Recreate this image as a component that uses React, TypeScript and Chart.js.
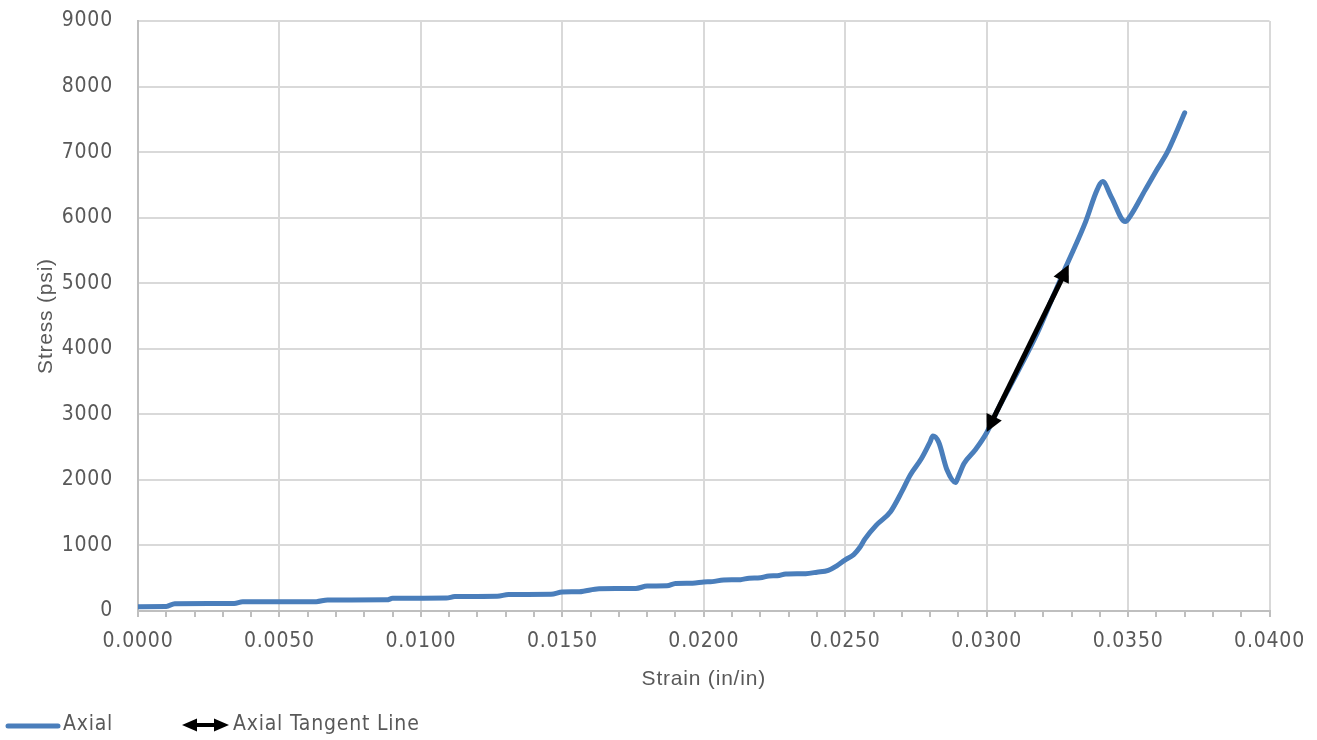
import React, { useEffect, useRef } from 'react';
import { Chart, registerables } from 'chart.js';

Chart.register(...registerables);

// ---- Data ----
const axialStrain = [
  0.0000, 0.0010, 0.0013, 0.0034, 0.0037, 0.0063, 0.0067, 0.0088, 0.0090, 0.0109, 0.0112, 0.0127, 0.0131,
  0.0146, 0.0150, 0.0156, 0.0163, 0.0176, 0.0180, 0.0187, 0.0190, 0.0196, 0.0200,
  0.0203, 0.0207, 0.0213, 0.0216, 0.0220, 0.0223, 0.0226, 0.0229, 0.0236, 0.0240,
  0.0244, 0.0247, 0.0250, 0.0253, 0.0255, 0.0257, 0.0261, 0.0266, 0.0270, 0.0273,
  0.0277, 0.0280, 0.0281, 0.0283, 0.0286, 0.0289, 0.0290, 0.0292, 0.0296, 0.0300,
  0.0304, 0.0311, 0.0318, 0.0323, 0.0328, 0.0335, 0.0339, 0.0341, 0.0344, 0.0349,
  0.0351, 0.0356, 0.0360, 0.0364, 0.0370,
];
const axialStress = [
  66, 68, 112, 115, 140, 143, 168, 170, 194, 197, 220, 225, 252,
  255, 290, 295, 340, 345, 380, 385, 420, 425, 442,
  448, 473, 478, 500, 506, 534, 538, 564, 570, 592,
  620, 690, 780, 860, 960, 1100, 1310, 1515, 1820, 2075,
  2330, 2580, 2670, 2580, 2150, 1960, 2050, 2250, 2460, 2720,
  3080, 3650, 4250, 4750, 5250, 5940, 6420, 6550, 6320, 5940,
  6040, 6420, 6720, 7010, 7600,
];
const tangentStrain = [0.0300, 0.0329];
const tangentStress = [2730, 5280];
const seriesNames = ['Axial', 'Axial Tangent Line'];

const xMin = 0;
const xMax = 0.04;
const xStep = 0.001;
const xMajorEvery = 5;
const yMin = 0;
const yMax = 9000;
const yStep = 1000;
const xTitle = 'Strain (in/in)';
const yTitle = 'Stress (psi)';

// ---- Styles ----
const BLUE = '#4a7ebb';
const TEXT = '#595959';
const GRID = '#d9d9d9';
const AXIS = '#bfbfbf';
const NARROW = '"Liberation Sans Narrow", "DejaVu Sans Condensed", "Liberation Sans", sans-serif';
const REGULAR = '"Liberation Sans", Arial, sans-serif';

function drawHead(ctx: CanvasRenderingContext2D, tx: number, ty: number, fx: number, fy: number, len: number, hw: number) {
  const a = Math.atan2(ty - fy, tx - fx);
  const bx = tx - Math.cos(a) * len;
  const by = ty - Math.sin(a) * len;
  ctx.beginPath();
  ctx.moveTo(tx, ty);
  ctx.lineTo(bx + Math.sin(a) * hw, by - Math.cos(a) * hw);
  ctx.lineTo(bx - Math.sin(a) * hw, by + Math.cos(a) * hw);
  ctx.closePath();
  ctx.fill();
}

function drawDoubleArrow(ctx: CanvasRenderingContext2D, x1: number, y1: number, x2: number, y2: number, len: number, hw: number, width: number, color: string) {
  const a = Math.atan2(y2 - y1, x2 - x1);
  ctx.save();
  ctx.strokeStyle = color;
  ctx.fillStyle = color;
  ctx.lineWidth = width;
  ctx.lineCap = 'butt';
  ctx.beginPath();
  ctx.moveTo(x1 + Math.cos(a) * (len - 2), y1 + Math.sin(a) * (len - 2));
  ctx.lineTo(x2 - Math.cos(a) * (len - 2), y2 - Math.sin(a) * (len - 2));
  ctx.stroke();
  drawHead(ctx, x2, y2, x1, y1, len, hw);
  drawHead(ctx, x1, y1, x2, y2, len, hw);
  ctx.restore();
}

const spacingPlugin = {
  id: 'spacing',
  beforeInit(chart: any) { chart.ctx.letterSpacing = '0.8px'; },
  beforeUpdate(chart: any) { chart.ctx.letterSpacing = '0.8px'; },
  beforeDraw(chart: any) { chart.ctx.letterSpacing = '0.8px'; },
};

const arrowPlugin = {
  id: 'tangentArrow',
  afterDatasetsDraw(chart: any) {
    const meta = chart.getDatasetMeta(1);
    if (!meta || meta.data.length < 2) return;
    const p0 = meta.data[0];
    const p1 = meta.data[meta.data.length - 1];
    drawDoubleArrow(chart.ctx, p0.x, p0.y, p1.x, p1.y, 17, 8.5, 5, '#000000');
  },
};

const legendPlugin = {
  id: 'customLegend',
  afterDraw(chart: any) {
    const ctx: CanvasRenderingContext2D = chart.ctx;
    const cy = 725;
    ctx.save();
    ctx.letterSpacing = '0.8px';
    // Axial
    ctx.strokeStyle = BLUE;
    ctx.lineWidth = 5;
    ctx.lineCap = 'round';
    ctx.beginPath();
    ctx.moveTo(8, cy + 1);
    ctx.lineTo(58, cy + 1);
    ctx.stroke();
    ctx.font = `21px ${NARROW}`;
    ctx.fillStyle = TEXT;
    ctx.textBaseline = 'middle';
    ctx.textAlign = 'left';
    ctx.fillText(chart.data.datasets[0].label, 63, cy);
    // Tangent
    drawDoubleArrow(ctx, 182, cy, 229, cy, 15, 6.5, 4, '#000000');
    ctx.fillText(chart.data.datasets[1].label, 233, cy);
    ctx.restore();
  },
};

export default function App() {
  const canvasRef = useRef<HTMLCanvasElement | null>(null);

  useEffect(() => {
    const canvas = canvasRef.current;
    if (!canvas) return;
    const axialData = axialStrain.map((x, i) => ({ x, y: axialStress[i] }));
    const tangentData = tangentStrain.map((x, i) => ({ x, y: tangentStress[i] }));

    const chart = new Chart(canvas, {
      type: 'line',
      data: {
        datasets: [
          {
            label: seriesNames[0],
            data: axialData,
            borderColor: BLUE,
            backgroundColor: BLUE,
            borderWidth: 5,
            pointRadius: 0,
            cubicInterpolationMode: 'monotone',
            borderCapStyle: 'round',
            borderJoinStyle: 'round',
            fill: false,
          },
          {
            label: seriesNames[1],
            data: tangentData,
            borderColor: '#000000',
            backgroundColor: '#000000',
            borderWidth: 0,
            showLine: false,
            pointRadius: 0,
            fill: false,
          },
        ],
      },
      options: {
        animation: false,
        responsive: false,
        maintainAspectRatio: false,
        devicePixelRatio: 1,
        parsing: false as any,
        layout: { padding: { top: 21, right: 46, bottom: 39, left: 0 } },
        plugins: {
          legend: { display: false },
          tooltip: { enabled: false },
        },
        scales: {
          x: {
            type: 'linear',
            min: xMin,
            max: xMax,
            afterFit: (s: any) => { s.height = 90; },
            ticks: {
              stepSize: xStep,
              autoSkip: false,
              maxRotation: 0,
              minRotation: 0,
              padding: 12,
              color: TEXT,
              font: { family: NARROW, size: 21 },
              callback: (v: any, i: number) => (i % xMajorEvery === 0 ? Number(v).toFixed(4) : ''),
            },
            grid: {
              color: (c: any) => (c.index % xMajorEvery === 0 ? GRID : 'rgba(0,0,0,0)'),
              lineWidth: 2,
              drawTicks: true,
              tickLength: 6,
              tickColor: AXIS,
              tickWidth: 2,
            },
            border: { color: AXIS, width: 2 },
            title: {
              display: true,
              text: xTitle,
              color: TEXT,
              font: { family: REGULAR, size: 21 },
              padding: { top: 0, bottom: 9 },
            },
          },
          y: {
            type: 'linear',
            min: yMin,
            max: yMax,
            afterFit: (s: any) => { s.width = 138; s.paddingTop = 0; s.paddingBottom = 0; },
            ticks: {
              stepSize: yStep,
              padding: 25,
              color: TEXT,
              font: { family: NARROW, size: 21 },
              callback: (v: any) => String(v),
            },
            grid: {
              color: GRID,
              lineWidth: 2,
              drawTicks: false,
            },
            border: { color: AXIS, width: 2 },
            title: {
              display: true,
              text: yTitle,
              color: TEXT,
              font: { family: REGULAR, size: 21 },
              padding: { top: 34, bottom: 0 },
            },
          },
        },
      },
      plugins: [spacingPlugin, arrowPlugin, legendPlugin],
    } as any);

    return () => chart.destroy();
  }, []);

  return (
    <div style={{ position: 'fixed', left: 0, top: 0, width: 1317, height: 740, background: '#ffffff' }}>
      <canvas ref={canvasRef} width={1317} height={740} style={{ display: 'block', width: 1317, height: 740 }} />
    </div>
  );
}
